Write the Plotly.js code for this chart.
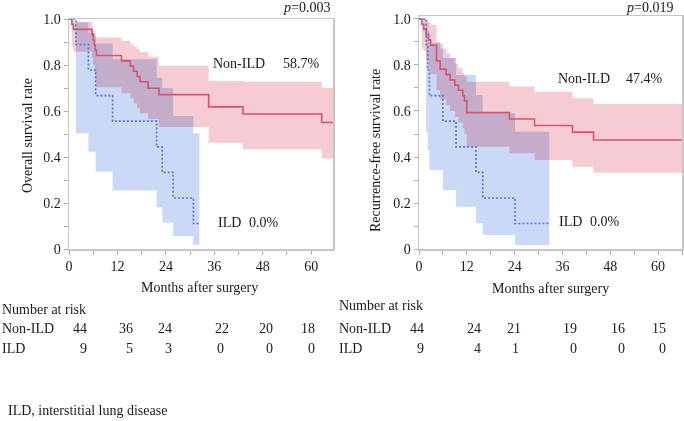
<!DOCTYPE html>
<html>
<head>
<meta charset="utf-8">
<script src="https://cdn.plot.ly/plotly-3.0.1.min.js"></script>
<style>
  html, body { margin: 0; padding: 0; background: #fff; }
  #chart { width: 684px; height: 421px; }
  .js-plotly-plot .scatterlayer path.js-fill { mix-blend-mode: multiply; }
</style>
</head>
<body>
<div id="chart"></div>
<script>
// ---------- Overall survival (left) ----------
const osNonT  = [0, 0.7, 1.1, 5.7, 6.0, 6.3, 6.5, 6.8, 13.0, 15.2, 16.0, 16.9, 17.6, 19.6, 22.3, 34.6, 43.1, 62.6, 65.4];
const osNonS  = [1.0, 0.977, 0.955, 0.932, 0.909, 0.886, 0.864, 0.841, 0.818, 0.795, 0.773, 0.750, 0.727, 0.699, 0.671, 0.618, 0.587, 0.550, 0.550];
const osNonLo = [1.0, 0.88, 0.858, 0.83, 0.80, 0.77, 0.735, 0.703, 0.677, 0.655, 0.633, 0.612, 0.590, 0.565, 0.530, 0.462, 0.433, 0.394, 0.394];
const osNonHi = [1.0, 1.0, 0.988, 0.97, 0.95, 0.935, 0.925, 0.92, 0.905, 0.89, 0.88, 0.868, 0.858, 0.836, 0.797, 0.730, 0.727, 0.700, 0.700];

const osIldT  = [0, 1.7, 4.8, 6.6, 10.8, 21.7, 23.1, 25.8, 30.8, 32.3];
const osIldS  = [1.0, 0.889, 0.778, 0.667, 0.556, 0.444, 0.333, 0.222, 0.111, 0.111];
const osIldLo = [1.0, 0.503, 0.423, 0.336, 0.254, 0.181, 0.114, 0.057, 0.017, 0.017];
const osIldHi = [1.0, 0.985, 0.94, 0.894, 0.825, 0.745, 0.70, 0.578, 0.503, 0.503];

// ---------- Recurrence-free survival (right) ----------
const rfsNonT  = [0, 0.7, 1.2, 1.8, 2.4, 2.9, 4.4, 5.3, 6.8, 7.8, 9.0, 9.9, 11.0, 11.4, 12.0, 22.7, 29.0, 38.5, 43.8, 66];
const rfsNonS  = [1.0, 0.977, 0.955, 0.932, 0.909, 0.886, 0.818, 0.782, 0.758, 0.735, 0.712, 0.690, 0.667, 0.644, 0.593, 0.565, 0.537, 0.508, 0.474, 0.474];
const rfsNonLo = [1.0, 0.87, 0.86, 0.82, 0.79, 0.76, 0.69, 0.65, 0.625, 0.60, 0.575, 0.55, 0.525, 0.50, 0.445, 0.416, 0.387, 0.358, 0.332, 0.332];
const rfsNonHi = [1.0, 1.0, 1.0, 0.99, 0.985, 0.974, 0.90, 0.872, 0.851, 0.829, 0.807, 0.786, 0.765, 0.75, 0.727, 0.706, 0.684, 0.655, 0.630, 0.630];

const rfsIldT  = [0, 1.8, 2.2, 2.6, 6.0, 9.3, 14.3, 16.0, 24.1, 32.7];
const rfsIldS  = [1.0, 0.889, 0.778, 0.667, 0.556, 0.444, 0.333, 0.222, 0.111, 0.111];
const rfsIldLo = [1.0, 0.51, 0.43, 0.343, 0.257, 0.184, 0.112, 0.061, 0.017, 0.017];
const rfsIldHi = [1.0, 0.985, 0.95, 0.894, 0.83, 0.757, 0.67, 0.59, 0.51, 0.51];

// ---------- Labels / tables ----------
const xTicks = [0, 12, 24, 36, 48, 60];
const yTickVals = [0, 0.2, 0.4, 0.6, 0.8, 1.0];
const yTickText = ['0', '0.2', '0.4', '0.6', '0.8', '1.0'];
const groups = ['Non-ILD', 'ILD'];
const osFinal = ['58.7%', '0.0%'];
const rfsFinal = ['47.4%', '0.0%'];
const osP = '0.003';
const rfsP = '0.019';
const osRiskNon = [44, 36, 24, 22, 20, 18];
const osRiskIld = [9, 5, 3, 0, 0, 0];
const rfsRiskNon = [44, 24, 21, 19, 16, 15];
const rfsRiskIld = [9, 4, 1, 0, 0, 0];

// ---------- Styles ----------
const W = 684, H = 421;
const F = 'Liberation Serif, Times New Roman, serif';
const TXT = '#1a1a1a';
const RED = '#d8536b', BLUE = '#4a78e4';
const PINK = '#f5ccd3', LBLUE = '#cbd9f6';

function band(t, lo, hi, color, xa, ya) {
  return [
    {x: t, y: lo, xaxis: xa, yaxis: ya, mode: 'lines', line: {width: 0, shape: 'hv', color: color}, hoverinfo: 'skip'},
    {x: t, y: hi, xaxis: xa, yaxis: ya, mode: 'lines', line: {width: 0, shape: 'hv', color: color}, fill: 'tonexty', fillcolor: color, hoverinfo: 'skip'}
  ];
}
function curve(t, s, color, dash, xa, ya) {
  return {x: t, y: s, xaxis: xa, yaxis: ya, mode: 'lines', line: {color: color, width: 1.6, shape: 'hv', dash: dash}, hoverinfo: 'skip'};
}

const data = [].concat(
  band(osNonT, osNonLo, osNonHi, PINK, 'x', 'y'),
  band(osIldT, osIldLo, osIldHi, LBLUE, 'x', 'y'),
  band(rfsNonT, rfsNonLo, rfsNonHi, PINK, 'x2', 'y2'),
  band(rfsIldT, rfsIldLo, rfsIldHi, LBLUE, 'x2', 'y2'),
  [curve(osNonT, osNonS, RED, 'solid', 'x', 'y'),
   curve(osIldT, osIldS, BLUE, '2px,2px', 'x', 'y'),
   curve(rfsNonT, rfsNonS, RED, 'solid', 'x2', 'y2'),
   curve(rfsIldT, rfsIldS, BLUE, '2px,2px', 'x2', 'y2')]
);

function xax(domain, range) {
  return {domain: domain, range: range, tickvals: xTicks, ticks: 'outside', ticklen: 4, tickwidth: 1,
    tickcolor: '#aaaaaa', showline: true, mirror: true, linecolor: '#c6c6c6', linewidth: 1.5,
    showgrid: false, zeroline: false, tickfont: {family: F, size: 14, color: TXT},
    minor: {dtick: 6, tick0: 0, ticks: 'outside', ticklen: 4, tickcolor: '#aaaaaa', showgrid: false}};
}
function yax(domain, range, anchor) {
  return {domain: domain, range: range, anchor: anchor, tickvals: yTickVals, ticktext: yTickText,
    ticks: 'outside', ticklen: 4, tickwidth: 1, tickcolor: '#aaaaaa', showline: true, mirror: true,
    linecolor: '#c6c6c6', linewidth: 1.5, showgrid: false, zeroline: false,
    tickfont: {family: F, size: 14, color: TXT},
    minor: {dtick: 0.1, tick0: 0, ticks: 'outside', ticklen: 4, tickcolor: '#aaaaaa', showgrid: false}};
}

function ann(text, x, y, xanchor, extra) {
  return Object.assign({text: text, xref: 'paper', yref: 'paper', x: x / W, y: 1 - y / H,
    xanchor: xanchor, yanchor: 'middle', showarrow: false, borderpad: 0, borderwidth: 0,
    font: {family: F, size: 14, color: TXT}}, extra || {});
}

const anns = [
  ann('<i>p</i>=' + osP, 330, 8, 'right'),
  ann('<i>p</i>=' + rfsP, 673, 8, 'right'),
  ann('Overall survival rate', 28, 136, 'center', {textangle: -90}),
  ann('Recurrence-free survival rate', 375, 151, 'center', {textangle: -90}),
  ann('Months after surgery', 199, 287, 'center'),
  ann('Months after surgery', 550, 288, 'center'),
  ann(groups[0], 213, 63, 'left'),
  ann(osFinal[0], 283, 63, 'left'),
  ann(groups[1], 218, 222, 'left'),
  ann(osFinal[1], 249, 222, 'left'),
  ann(groups[0], 558, 79, 'left'),
  ann(rfsFinal[0], 626, 79, 'left'),
  ann(groups[1], 559, 221, 'left'),
  ann(rfsFinal[1], 590, 221, 'left'),
  ann('Number at risk', 2, 309, 'left'),
  ann(groups[0], 2, 328, 'left'),
  ann(groups[1], 2, 348, 'left'),
  ann('Number at risk', 339, 305, 'left'),
  ann(groups[0], 339, 328, 'left'),
  ann(groups[1], 339, 348, 'left'),
  ann('ILD, interstitial lung disease', 8, 410, 'left')
];
const leftColsNon = [87, 133, 172, 229, 273, 315];
const leftColsIld = [87, 133, 172, 224, 273, 315];
const rightColsNon = [424, 481, 521, 577, 625, 666];
const rightColsIld = [424, 481, 519, 577, 625, 666];
osRiskNon.forEach((v, i) => anns.push(ann(String(v), leftColsNon[i], 328, 'right')));
osRiskIld.forEach((v, i) => anns.push(ann(String(v), leftColsIld[i], 348, 'right')));
rfsRiskNon.forEach((v, i) => anns.push(ann(String(v), rightColsNon[i], 328, 'right')));
rfsRiskIld.forEach((v, i) => anns.push(ann(String(v), rightColsIld[i], 348, 'right')));

const layout = {
  width: W, height: H,
  margin: {l: 0, r: 0, t: 0, b: 0},
  paper_bgcolor: '#ffffff', plot_bgcolor: '#ffffff',
  showlegend: false,
  xaxis: Object.assign(xax([69 / W, 333 / W], [0, 65.4]), {anchor: 'y'}),
  yaxis: yax([1 - 249 / H, 1 - 19 / H], [0, 1.0], 'x'),
  xaxis2: Object.assign(xax([419 / W, 682 / W], [0, 66]), {anchor: 'y2'}),
  yaxis2: yax([1 - 249 / H, 1 - 16 / H], [0, 1.013], 'x2'),
  annotations: anns
};

Plotly.newPlot('chart', data, layout, {staticPlot: true, displayModeBar: false});
</script>
</body>
</html>
